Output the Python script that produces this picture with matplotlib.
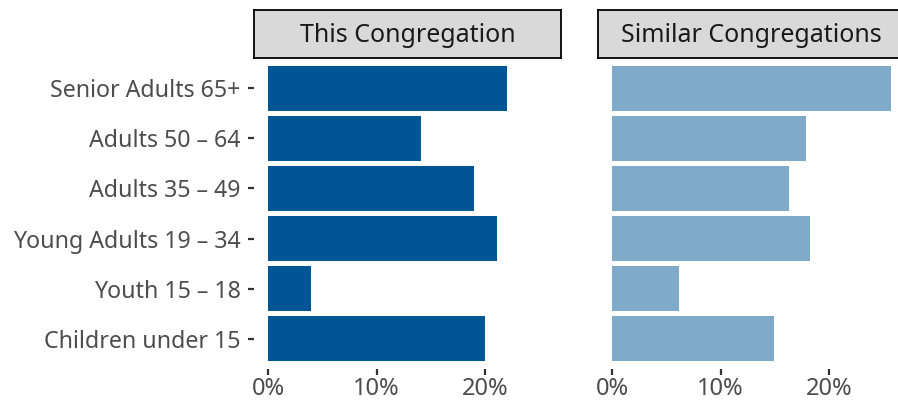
import matplotlib.pyplot as plt
from matplotlib.ticker import FuncFormatter

plt.rcParams['font.family'] = ['Noto Sans', 'DejaVu Sans']

groups = ["Senior Adults 65+", "Adults 50 \u2013 64", "Adults 35 \u2013 49",
          "Young Adults 19 \u2013 34", "Youth 15 \u2013 18", "Children under 15"]
this_cong = [22.0, 14.05, 19.0, 21.05, 4.0, 20.0]
similar_cong = [25.7, 17.9, 16.3, 18.2, 6.2, 14.9]
panels = ["This Congregation", "Similar Congregations"]
colors = ["#005596", "#7faaca"]

W, H = 898, 401
fig = plt.figure(figsize=(W / 100, H / 100), dpi=100)

def box(x0, y0, x1, y1):
    return [x0 / W, 1 - y1 / H, (x1 - x0) / W, (y1 - y0) / H]

xmax = max(max(this_cong), max(similar_cong))
xlim = (-0.05 * xmax, 1.05 * xmax)
ypos = list(range(len(groups)))[::-1]

for i, (name, vals, col) in enumerate(zip(panels, [this_cong, similar_cong], colors)):
    left = 254 if i == 0 else 598
    ax = fig.add_axes(box(left, 58, left + 307, 369))
    ax.barh(ypos, vals, height=0.9, color=col)
    ax.set_xlim(*xlim)
    ax.set_ylim(-0.6, len(groups) - 0.4)
    ax.set_xticks([0, 10, 20])
    ax.xaxis.set_major_formatter(FuncFormatter(lambda v, p: f"{v:.0f}%"))
    for s in ax.spines.values():
        s.set_visible(False)
    ax.tick_params(axis='x', length=4.5, width=1.6, color='#333333',
                   labelsize=17, labelcolor='#4d4d4d', pad=1.5)
    if i == 0:
        ax.set_yticks(ypos)
        ax.set_yticklabels(groups)
        ax.tick_params(axis='y', length=4.5, width=1.6, color='#333333',
                       labelsize=16.7, labelcolor='#4d4d4d', pad=5)
    else:
        ax.set_yticks([])

    # facet strip above each panel
    strip = fig.add_axes(box(left, 10, left + 307 + 10 * i, 58))
    strip.set_facecolor('#d9d9d9')
    strip.set_xticks([])
    strip.set_yticks([])
    for s in strip.spines.values():
        s.set_linewidth(1.3)
        s.set_color('black')
    strip.text(0.5 - 0.016 * i, 0.47, name, ha='center', va='center', fontsize=18,
               color='#1a1a1a', transform=strip.transAxes)

fig.savefig("out.png", dpi=100)
